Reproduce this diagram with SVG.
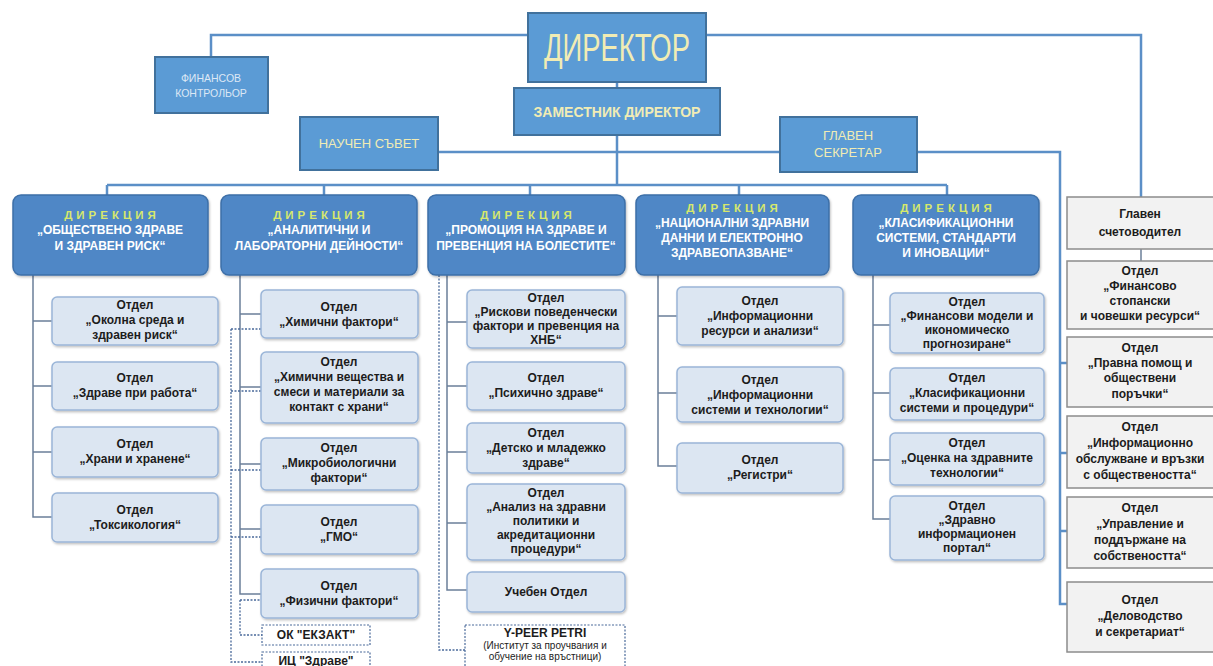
<svg xmlns="http://www.w3.org/2000/svg" width="1213" height="666" viewBox="0 0 1213 666">
<defs>
<style>
.top{fill:#5b9bd5;stroke:#41719c;stroke-width:2}
.dir{fill:#4f87c6;stroke:#3d6fa8;stroke-width:1.5}
.sub{fill:#dce6f2;stroke:#9ab5d8;stroke-width:1.5}
.rc{fill:#f2f2f2;stroke:#8c8c8c;stroke-width:1.5}
.dash{fill:#ffffff;stroke:#4a6a9a;stroke-width:1.2;stroke-dasharray:2 1.5}
.ct{fill:none;stroke:#5b8fc7;stroke-width:2.5}
.cs{fill:none;stroke:#6b7f99;stroke-width:1.5}
.cd{fill:none;stroke:#4a6a9a;stroke-width:1.3;stroke-dasharray:2 1.5}
text{font-family:"Liberation Sans",Arial,sans-serif;text-anchor:middle}
.tt{fill:#f1ecb4}
.dh{fill:#d7e86c;font-size:11.5px;font-weight:bold;letter-spacing:4px}
.dn{fill:#ffffff;font-size:12px;font-weight:bold}
.st{fill:#1c1c1c;font-size:12px;font-weight:bold}
.sn{fill:#1c1c1c;font-size:10px}
</style>
<filter id="sh" x="-5%" y="-5%" width="115%" height="120%"><feDropShadow dx="1" dy="1.5" stdDeviation="1.2" flood-color="#000" flood-opacity="0.25"/></filter>
</defs>
<rect width="1213" height="666" fill="#ffffff"/>

<g id="connectors">
<path class="ct" d="M528,35 H211 V57"/>
<path class="ct" d="M706,35 H1141 V197"/>
<path class="ct" d="M617,82 V88"/>
<path class="ct" d="M617,135 V185"/>
<path class="ct" d="M438,152 H780"/>
<path class="ct" d="M917,152 H1060 V604 H1067"/>
<path class="ct" d="M1060,363 H1067 M1060,453 H1067 M1060,531 H1067"/>
<path class="cs" d="M1141,249 V261"/>
<path class="ct" d="M107,185 H947 M107,185 V196 M324,185 V196 M530,185 V196 M739,185 V196 M947,185 V196"/>
<path class="cs" d="M33,275 V517 H52 M33,321 H52 M33,386 H52 M33,452 H52"/>
<path class="cs" d="M240,275 V594 H261 M240,314 H261 M240,387 H261 M240,464 H261 M240,529 H261"/>
<path class="cd" d="M231,329 V662 H262 M231,329 H261 M231,391 H261 M231,470 H261 M231,537 H261"/>
<path class="cd" d="M240,600 V635 H262 M240,600 H261"/>
<path class="cs" d="M447,275 V590 H467 M447,322 H467 M447,386 H467 M447,452 H467 M447,523 H467"/>
<path class="cd" d="M439,275 V650 H465"/>
<path class="cs" d="M658,275 V466 H677 M658,316 H677 M658,393 H677"/>
<path class="cs" d="M873,275 V519 H890 M873,325 H890 M873,393 H890 M873,460 H890"/>
</g>

<g id="director"><rect class="top" x="528" y="13" width="178" height="69"/><text class="tt" x="617" y="61" font-size="38" textLength="146" lengthAdjust="spacingAndGlyphs">ДИРЕКТОР</text></g>
<g id="fin-controller"><rect class="top" x="155" y="57" width="113" height="56"/><text fill="#dde8f5" font-size="10.5"><tspan x="211" y="82">ФИНАНСОВ</tspan><tspan x="211" y="97">КОНТРОЛЬОР</tspan></text></g>
<g id="deputy"><rect class="top" x="514" y="88" width="206" height="47"/><text class="tt" x="617" y="117" font-size="14" font-weight="bold">ЗАМЕСТНИК ДИРЕКТОР</text></g>
<g id="sci-council"><rect class="top" x="300" y="117" width="138" height="53"/><text class="tt" x="369" y="148" font-size="13">НАУЧЕН СЪВЕТ</text></g>
<g id="chief-secretary"><rect class="top" x="780" y="117" width="137" height="55"/><text class="tt" font-size="13"><tspan x="848" y="140">ГЛАВЕН</tspan><tspan x="848" y="157">СЕКРЕТАР</tspan></text></g>

<g id="dir1"><rect class="dir" x="13" y="195" width="195" height="80" rx="8" filter="url(#sh)"/><text class="dh" x="112" y="219">ДИРЕКЦИЯ</text><text class="dn"><tspan x="110" y="234">„ОБЩЕСТВЕНО ЗДРАВЕ</tspan><tspan x="110" y="250">И ЗДРАВЕН РИСК“</tspan></text></g>
<g id="dir2"><rect class="dir" x="221" y="195" width="196" height="80" rx="8" filter="url(#sh)"/><text class="dh" x="321" y="219">ДИРЕКЦИЯ</text><text class="dn"><tspan x="319" y="234">„АНАЛИТИЧНИ И</tspan><tspan x="319" y="250">ЛАБОРАТОРНИ ДЕЙНОСТИ“</tspan></text></g>
<g id="dir3"><rect class="dir" x="428" y="195" width="197" height="80" rx="8" filter="url(#sh)"/><text class="dh" x="528" y="219">ДИРЕКЦИЯ</text><text class="dn" font-size="11.5"><tspan x="526" y="234">„ПРОМОЦИЯ НА ЗДРАВЕ И</tspan><tspan x="526" y="250">ПРЕВЕНЦИЯ НА БОЛЕСТИТЕ“</tspan></text></g>
<g id="dir4"><rect class="dir" x="636" y="195" width="193" height="80" rx="8" filter="url(#sh)"/><text class="dh" x="734" y="212">ДИРЕКЦИЯ</text><text class="dn"><tspan x="732" y="227">„НАЦИОНАЛНИ ЗДРАВНИ</tspan><tspan x="732" y="242">ДАННИ И ЕЛЕКТРОННО</tspan><tspan x="732" y="257">ЗДРАВЕОПАЗВАНЕ“</tspan></text></g>
<g id="dir5"><rect class="dir" x="853" y="195" width="186" height="80" rx="8" filter="url(#sh)"/><text class="dh" x="948" y="212">ДИРЕКЦИЯ</text><text class="dn"><tspan x="946" y="227">„КЛАСИФИКАЦИОННИ</tspan><tspan x="946" y="242">СИСТЕМИ, СТАНДАРТИ</tspan><tspan x="946" y="257">И ИНОВАЦИИ“</tspan></text></g>

<g id="d1-okolna"><rect class="sub" x="52" y="297" width="166" height="48" rx="5" filter="url(#sh)"/><text class="st"><tspan x="135" y="309">Отдел</tspan><tspan x="135" y="324">„Околна среда и</tspan><tspan x="135" y="339">здравен риск“</tspan></text></g>
<g id="d1-rabota"><rect class="sub" x="52" y="362" width="166" height="48" rx="5" filter="url(#sh)"/><text class="st"><tspan x="135" y="382">Отдел</tspan><tspan x="135" y="397">„Здраве при работа“</tspan></text></g>
<g id="d1-hrani"><rect class="sub" x="52" y="427" width="166" height="50" rx="5" filter="url(#sh)"/><text class="st"><tspan x="135" y="448">Отдел</tspan><tspan x="135" y="463">„Храни и хранене“</tspan></text></g>
<g id="d1-toks"><rect class="sub" x="52" y="493" width="166" height="49" rx="5" filter="url(#sh)"/><text class="st"><tspan x="135" y="514">Отдел</tspan><tspan x="135" y="529">„Токсикология“</tspan></text></g>

<g id="d2-himfak"><rect class="sub" x="261" y="290" width="157" height="48" rx="5" filter="url(#sh)"/><text class="st"><tspan x="339" y="311">Отдел</tspan><tspan x="339" y="326">„Химични фактори“</tspan></text></g>
<g id="d2-himvesht"><rect class="sub" x="261" y="352" width="157" height="71" rx="5" filter="url(#sh)"/><text class="st"><tspan x="339" y="366">Отдел</tspan><tspan x="339" y="381">„Химични вещества и</tspan><tspan x="339" y="396">смеси и материали за</tspan><tspan x="339" y="411">контакт с храни“</tspan></text></g>
<g id="d2-mikro"><rect class="sub" x="261" y="438" width="157" height="52" rx="5" filter="url(#sh)"/><text class="st"><tspan x="339" y="452">Отдел</tspan><tspan x="339" y="467">„Микробиологични</tspan><tspan x="339" y="482">фактори“</tspan></text></g>
<g id="d2-gmo"><rect class="sub" x="261" y="505" width="157" height="49" rx="5" filter="url(#sh)"/><text class="st"><tspan x="339" y="526">Отдел</tspan><tspan x="339" y="541">„ГМО“</tspan></text></g>
<g id="d2-fiz"><rect class="sub" x="261" y="569" width="157" height="49" rx="5" filter="url(#sh)"/><text class="st"><tspan x="339" y="590">Отдел</tspan><tspan x="339" y="605">„Физични фактори“</tspan></text></g>
<g id="d2-ekzakt"><rect class="dash" x="262" y="625" width="108" height="20"/><text class="st" x="316" y="639" font-size="10.5">ОК "ЕКЗАКТ"</text></g>
<g id="d2-zdrave"><rect class="dash" x="262" y="652" width="108" height="20"/><text class="st" x="316" y="665" font-size="10.5">ИЦ "Здраве"</text></g>

<g id="d3-riskovi"><rect class="sub" x="467" y="290" width="158" height="58" rx="5" filter="url(#sh)"/><text class="st"><tspan x="546" y="302">Отдел</tspan><tspan x="546" y="316">„Рискови поведенчески</tspan><tspan x="546" y="330">фактори и превенция на</tspan><tspan x="546" y="344">ХНБ“</tspan></text></g>
<g id="d3-psih"><rect class="sub" x="467" y="362" width="158" height="48" rx="5" filter="url(#sh)"/><text class="st"><tspan x="546" y="382">Отдел</tspan><tspan x="546" y="397">„Психично здраве“</tspan></text></g>
<g id="d3-detsko"><rect class="sub" x="467" y="423" width="158" height="50" rx="5" filter="url(#sh)"/><text class="st"><tspan x="546" y="437">Отдел</tspan><tspan x="546" y="452">„Детско и младежко</tspan><tspan x="546" y="467">здраве“</tspan></text></g>
<g id="d3-analiz"><rect class="sub" x="467" y="484" width="158" height="76" rx="5" filter="url(#sh)"/><text class="st"><tspan x="546" y="497">Отдел</tspan><tspan x="546" y="511">„Анализ на здравни</tspan><tspan x="546" y="525">политики и</tspan><tspan x="546" y="539">акредитационни</tspan><tspan x="546" y="553">процедури“</tspan></text></g>
<g id="d3-ucheben"><rect class="sub" x="467" y="572" width="158" height="40" rx="5" filter="url(#sh)"/><text class="st" x="546" y="596">Учебен Отдел</text></g>
<g id="d3-ypeer"><rect class="dash" x="465" y="625" width="160" height="46"/><text class="st" x="545" y="637" font-size="10.5">Y-PEER PETRI</text><text class="sn"><tspan x="545" y="649">(Институт за проучвания и</tspan><tspan x="545" y="660">обучение на връстници)</tspan></text></g>

<g id="d4-resursi"><rect class="sub" x="677" y="287" width="166" height="58" rx="5" filter="url(#sh)"/><text class="st"><tspan x="760" y="305">Отдел</tspan><tspan x="760" y="320">„Информационни</tspan><tspan x="760" y="335">ресурси и анализи“</tspan></text></g>
<g id="d4-sistemi"><rect class="sub" x="677" y="367" width="166" height="55" rx="5" filter="url(#sh)"/><text class="st"><tspan x="760" y="384">Отдел</tspan><tspan x="760" y="399">„Информационни</tspan><tspan x="760" y="414">системи и технологии“</tspan></text></g>
<g id="d4-registri"><rect class="sub" x="677" y="443" width="166" height="50" rx="5" filter="url(#sh)"/><text class="st"><tspan x="760" y="464">Отдел</tspan><tspan x="760" y="479">„Регистри“</tspan></text></g>

<g id="d5-fin"><rect class="sub" x="890" y="293" width="154" height="60" rx="5" filter="url(#sh)"/><text class="st"><tspan x="967" y="306">Отдел</tspan><tspan x="967" y="320">„Финансови модели и</tspan><tspan x="967" y="334">икономическо</tspan><tspan x="967" y="348">прогнозиране“</tspan></text></g>
<g id="d5-klas"><rect class="sub" x="890" y="368" width="154" height="52" rx="5" filter="url(#sh)"/><text class="st"><tspan x="967" y="382">Отдел</tspan><tspan x="967" y="397">„Класификационни</tspan><tspan x="967" y="412">системи и процедури“</tspan></text></g>
<g id="d5-ocenka"><rect class="sub" x="890" y="433" width="154" height="52" rx="5" filter="url(#sh)"/><text class="st"><tspan x="967" y="447">Отдел</tspan><tspan x="967" y="462">„Оценка на здравните</tspan><tspan x="967" y="477">технологии“</tspan></text></g>
<g id="d5-portal"><rect class="sub" x="890" y="496" width="154" height="64" rx="5" filter="url(#sh)"/><text class="st"><tspan x="967" y="510">Отдел</tspan><tspan x="967" y="524">„Здравно</tspan><tspan x="967" y="538">информационен</tspan><tspan x="967" y="552">портал“</tspan></text></g>

<g id="r-schetovoditel"><rect class="rc" x="1067" y="197" width="150" height="52"/><text class="st"><tspan x="1140" y="218">Главен</tspan><tspan x="1140" y="236">счетоводител</tspan></text></g>
<g id="r-finansovo"><rect class="rc" x="1067" y="261" width="150" height="68"/><text class="st"><tspan x="1140" y="275">Отдел</tspan><tspan x="1140" y="290">„Финансово</tspan><tspan x="1140" y="305">стопански</tspan><tspan x="1140" y="320">и човешки ресурси“</tspan></text></g>
<g id="r-pravna"><rect class="rc" x="1067" y="337" width="150" height="70"/><text class="st"><tspan x="1140" y="352">Отдел</tspan><tspan x="1140" y="367">„Правна помощ и</tspan><tspan x="1140" y="382">обществени</tspan><tspan x="1140" y="398">поръчки“</tspan></text></g>
<g id="r-info"><rect class="rc" x="1067" y="416" width="150" height="72"/><text class="st"><tspan x="1140" y="431">Отдел</tspan><tspan x="1140" y="447">„Информационно</tspan><tspan x="1140" y="463">обслужване и връзки</tspan><tspan x="1140" y="479">с обществеността“</tspan></text></g>
<g id="r-upravlenie"><rect class="rc" x="1067" y="497" width="150" height="71"/><text class="st"><tspan x="1140" y="512">Отдел</tspan><tspan x="1140" y="528">„Управление и</tspan><tspan x="1140" y="544">поддържане на</tspan><tspan x="1140" y="560">собствеността“</tspan></text></g>
<g id="r-delovodstvo"><rect class="rc" x="1067" y="582" width="150" height="70"/><text class="st"><tspan x="1140" y="604">Отдел</tspan><tspan x="1140" y="620">„Деловодство</tspan><tspan x="1140" y="636">и секретариат“</tspan></text></g>
</svg>
